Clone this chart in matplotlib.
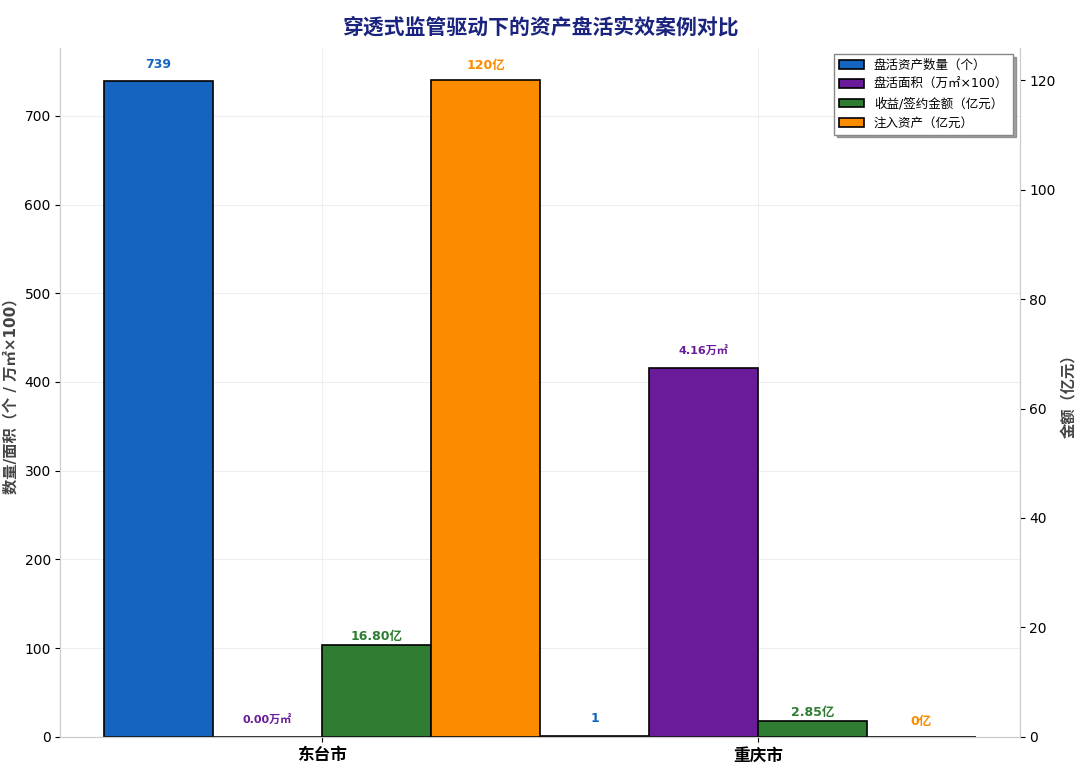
import matplotlib
matplotlib.use("Agg")
import matplotlib.pyplot as plt
import numpy as np

plt.rcParams['font.family'] = ['DejaVu Sans', 'Noto Sans CJK SC']

cities = ['东台市', '重庆市']
count = [739, 1]
area_x100 = [0, 416]
area_labels = ['0.00万㎡', '4.16万㎡']
income = [16.80, 2.85]
income_labels = ['16.80亿', '2.85亿']
inject = [120, 0]
inject_labels = ['120亿', '0亿']

fig, ax = plt.subplots(figsize=(10.8, 7.69), dpi=100)
fig.subplots_adjust(left=0.056, right=0.944, top=0.938, bottom=0.042)
ax2 = ax.twinx()
x = np.arange(len(cities))
w = 0.25
c_blue, c_purple, c_green, c_orange = '#1565C0', '#6A1B9A', '#2E7D32', '#FB8C00'

b1 = ax.bar(x - 1.5*w, count, w, color=c_blue, edgecolor='black', linewidth=1.2, label='盘活资产数量（个）')
b2 = ax.bar(x - 0.5*w, area_x100, w, color=c_purple, edgecolor='black', linewidth=1.2, label='盘活面积（万㎡×100）')
b3 = ax2.bar(x + 0.5*w, income, w, color=c_green, edgecolor='black', linewidth=1.2, label='收益/签约金额（亿元）')
b4 = ax2.bar(x + 1.5*w, inject, w, color=c_orange, edgecolor='black', linewidth=1.2, label='注入资产（亿元）')

for i in range(2):
    ax.text(x[i]-1.5*w, count[i]+12, str(count[i]), ha='center', va='bottom', color=c_blue, fontsize=9, fontweight='bold')
    ax.text(x[i]-0.5*w, area_x100[i]+12, area_labels[i], ha='center', va='bottom', color=c_purple, fontsize=8, fontweight='bold')
    ax2.text(x[i]+0.5*w, income[i]+0.3, income_labels[i], ha='center', va='bottom', color=c_green, fontsize=9, fontweight='bold')
    ax2.text(x[i]+1.5*w, inject[i]+1.5, inject_labels[i], ha='center', va='bottom', color=c_orange, fontsize=9, fontweight='bold')

ax.set_xlim(-0.6, 1.6)
ax.set_ylim(0, 777)
ax2.set_ylim(0, 126)
ax.set_xticks(x)
ax.set_xticklabels(cities, fontsize=12, fontweight='bold')
ax.set_ylabel('数量/面积（个 / 万㎡×100）', fontsize=11, fontweight='bold', color='#444444')
ax2.set_ylabel('金额（亿元）', fontsize=11, fontweight='bold', color='#444444')
ax.set_title('穿透式监管驱动下的资产盘活实效案例对比', fontsize=15, fontweight='bold', color='#1A237E', pad=10)
ax.grid(True, color='#eeeeee', linewidth=0.8)
ax.set_axisbelow(True)
for a in (ax, ax2):
    a.spines['top'].set_visible(False)
    a.spines['left'].set_color('#cccccc')
    a.spines['bottom'].set_color('#cccccc')
    a.spines['right'].set_color('#cccccc')

handles = [b1, b2, b3, b4]
ax2.legend(handles, [h.get_label() for h in handles], loc='upper right', fontsize=9, shadow=True, fancybox=False, edgecolor='#888888')

fig.savefig('out.png', dpi=100)
